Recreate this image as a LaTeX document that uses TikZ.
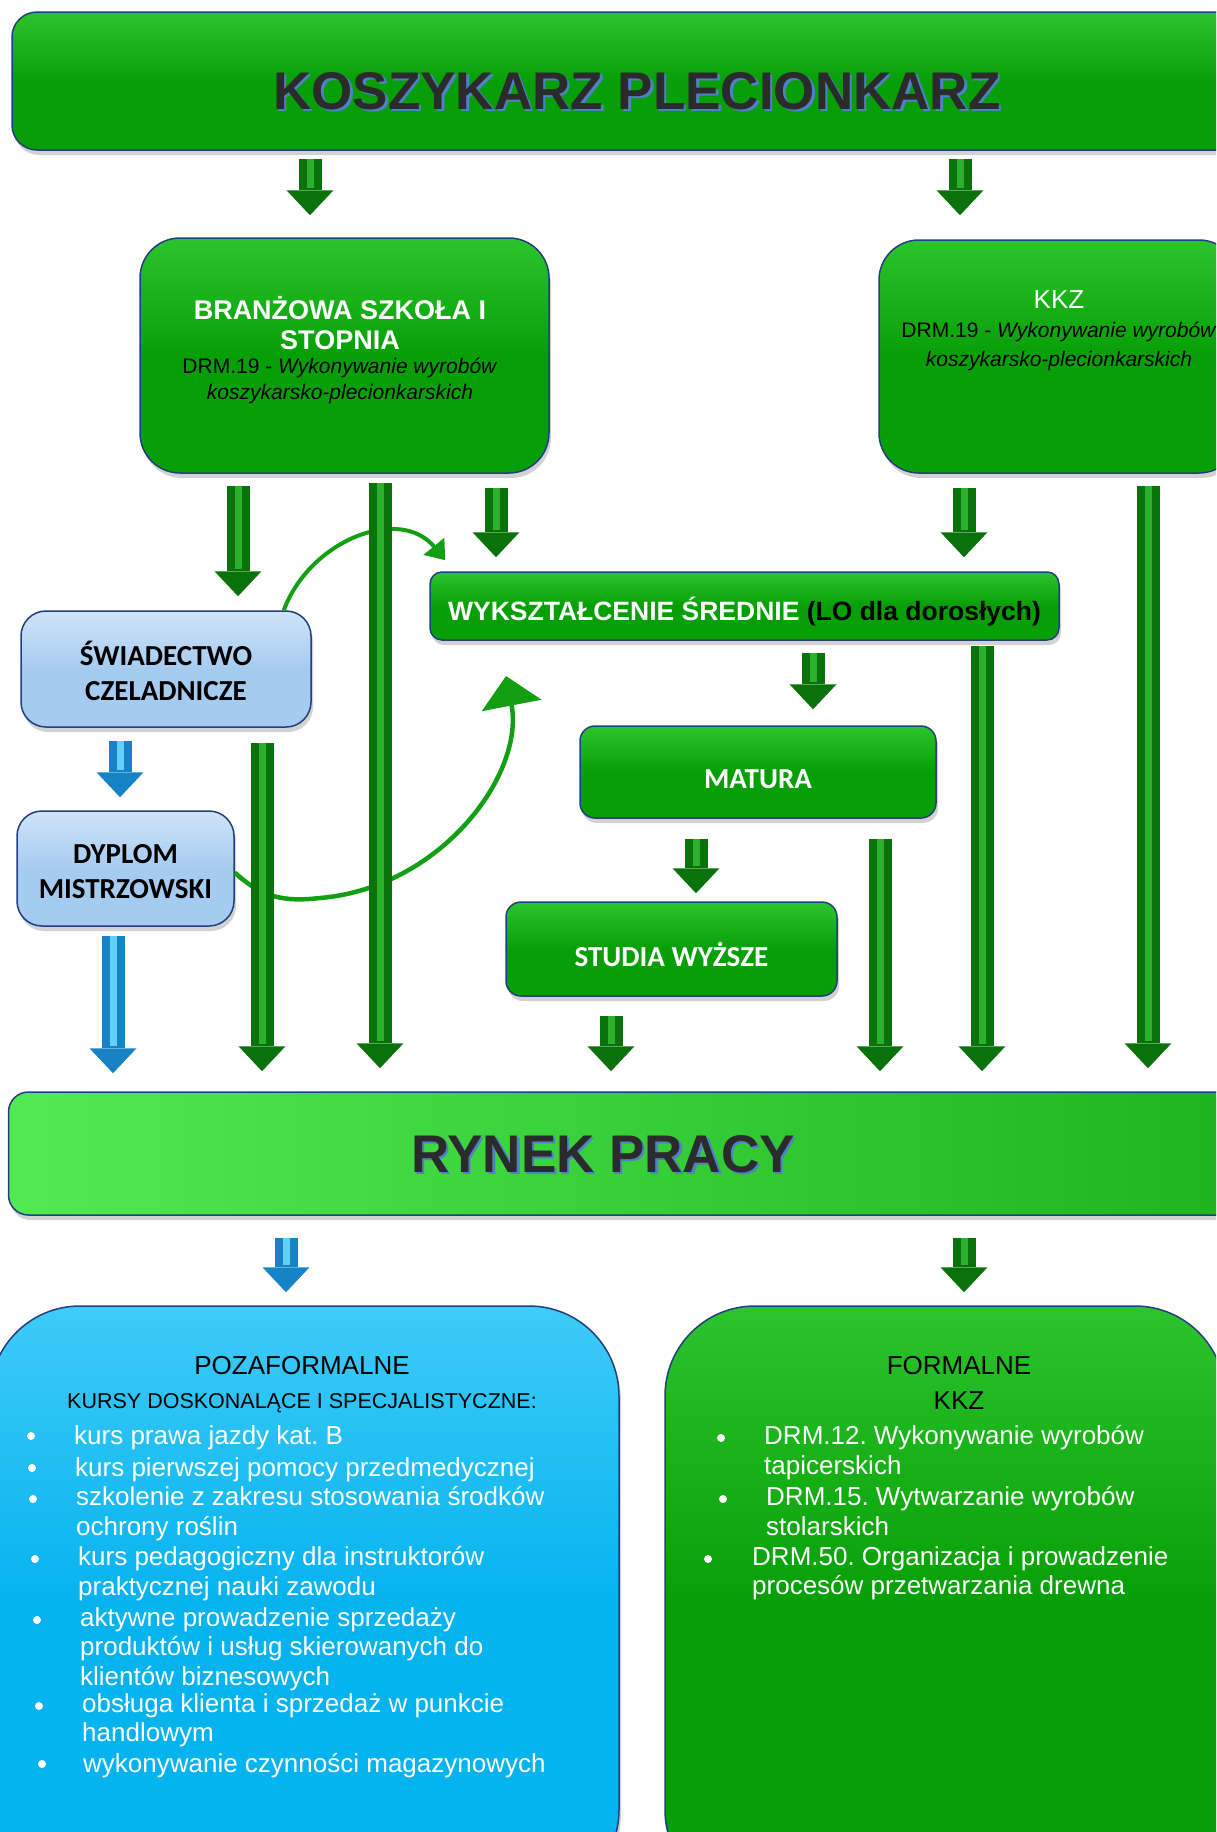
\documentclass[tikz,border=0pt]{standalone}
\usepackage{fontspec}
\setmainfont{Liberation Sans}
\newfontfamily\calibrifont{Carlito}
\usetikzlibrary{arrows.meta,shadows,positioning}
\frenchspacing
\definecolor{boxgreen}{HTML}{06A006}
\definecolor{boxgreenlight}{HTML}{2CC42C}
\definecolor{edgeblue}{HTML}{233F7E}
\definecolor{paleblue}{HTML}{A6CBF0}
\definecolor{palebluelight}{HTML}{CFE4F9}
\definecolor{skyblue}{HTML}{05B3EF}
\definecolor{skybluelight}{HTML}{3FCBF8}
\definecolor{marketlight}{HTML}{52EA52}
\definecolor{marketdark}{HTML}{1CB41C}
\definecolor{arrowgreen}{HTML}{0A720A}
\definecolor{arrowglow}{HTML}{2DB02D}
\definecolor{arrowblue}{HTML}{1683C6}
\definecolor{arrowblueglow}{HTML}{62D0F8}
\definecolor{curvegreen}{HTML}{12A012}
\definecolor{bannergray}{HTML}{2B2B2B}
\definecolor{bannershade}{HTML}{4F80C8}

\begin{document}
\begin{tikzpicture}[x=1pt,y=-1pt,% one unit = one pixel of the scan, y runs down
		every node/.style={align=center,inner sep=0pt},
		greenbox/.style={rectangle,rounded corners=#1,draw=edgeblue,line width=1.5pt,
			top color=boxgreenlight,bottom color=boxgreen,middle color=boxgreen,text=white,
			drop shadow={shadow xshift=2pt,shadow yshift=-5pt,opacity=.35}},
		greenbox/.default=12pt,
		palebox/.style={rectangle,rounded corners=25pt,draw=edgeblue,line width=1.5pt,
			top color=palebluelight,bottom color=paleblue,middle color=paleblue,
			drop shadow={shadow xshift=2pt,shadow yshift=-5pt,opacity=.35}},
		skybox/.style={rectangle,rounded corners=90pt,draw=edgeblue,line width=1.5pt,
			top color=skybluelight,bottom color=skyblue,middle color=skyblue,
			drop shadow={shadow xshift=2pt,shadow yshift=-5pt,opacity=.35}},
		marketbox/.style={rectangle,rounded corners=20pt,draw=edgeblue,line width=1.5pt,
			left color=marketlight,right color=marketdark,
			drop shadow={shadow xshift=2pt,shadow yshift=-5pt,opacity=.35}},
		bannertext/.style={font=\fontsize{53}{60}\selectfont\bfseries,text=bannergray},
		boxtext/.style={font=\calibrifont\bfseries\fontsize{29}{35}\selectfont},
		listitem/.style={align=left,anchor=north west,text=white,
			font=\fontsize{26}{29.5}\selectfont,execute at begin node=\strut},
		greenarrow/.style={draw=arrowgreen,line width=23pt,
			-{Triangle[width=47pt,length=25pt,line width=0pt]},
			postaction={draw=arrowglow,line width=7pt,arrows=-,shorten >=27pt}},
		bluearrow/.style={draw=arrowblue,line width=23pt,
			-{Triangle[width=47pt,length=25pt,line width=0pt]},
			postaction={draw=arrowblueglow,line width=7pt,arrows=-,shorten >=27pt}},
		loopline/.style={draw=curvegreen,line width=#1}
	]
	\useasboundingbox (0,0) rectangle (1216,1832);
	\clip (0,0) rectangle (1216,1832);
	\fill[white] (0,0) rectangle (1216,1832);

	% banners
	\node[greenbox=25pt,minimum width=1248pt,minimum height=138pt] (title) at (636,81) {};
	\node[bannertext,text=bannershade] (titleshade) at (639.5,93.5) {KOSZYKARZ PLECIONKARZ};
	\node[bannertext] (titletext) at (637,91) {KOSZYKARZ PLECIONKARZ};

	\node[marketbox,minimum width=1251pt,minimum height=123pt] (rynek) at (634,1153.5) {};
	\node[bannertext,text=bannershade] (rynekshade) at (605.5,1156.5) {RYNEK PRACY};
	\node[bannertext] (rynektext) at (603,1154) {RYNEK PRACY};

	% schools
	\node[greenbox=40pt,minimum width=409pt,minimum height=235pt] (bss) at (344.5,355.5) {};
	\node[font=\fontsize{21}{25}\selectfont] (bsstext) at (340,350)
		{\fontsize{27}{31}\selectfont\bfseries\color{white}BRANŻOWA SZKOŁA I\\[5pt]
		\fontsize{27}{31}\selectfont\bfseries\color{white}STOPNIA\\[-1pt]
		\fontsize{21}{25}\selectfont\mdseries DRM.19 - \textit{Wykonywanie wyrobów}\\[1pt]
		\textit{koszykarsko-plecionkarskich}};
	\node[greenbox=40pt,minimum width=360pt,minimum height=233pt] (kkz) at (1059,356.5) {};
	\node[font=\fontsize{21}{29}\selectfont] (kkztext) at (1059,331)
		{\textcolor{white}{\fontsize{26}{29}\selectfont KKZ}\\
		DRM.19 - \textit{Wykonywanie wyrobów}\\
		\textit{koszykarsko-plecionkarskich}};

	\node[greenbox,minimum width=629pt,minimum height=68pt] (wyk) at (744.5,606) {};
	\node[font=\fontsize{26.5}{30}\selectfont\bfseries,text=white] (wyktext) at ([yshift=-5pt]wyk.center)
		{WYKSZTAŁCENIE ŚREDNIE \textcolor{black}{(LO dla dorosłych)}};
	\node[greenbox=15pt,minimum width=356pt,minimum height=92pt] (matura) at (758,772) {};
	\node[boxtext,text=white] (maturatext) at ([yshift=-7pt]matura.center) {MATURA};
	\node[greenbox=15pt,minimum width=331pt,minimum height=94pt] (studia) at (671.5,949) {};
	\node[boxtext,text=white] (studiatext) at ([yshift=-5pt]studia.center) {STUDIA WYŻSZE};

	\node[palebox,minimum width=290pt,minimum height=116pt] (swiad) at (166,669) {};
	\node[boxtext] (swiadtext) at ([yshift=-2pt]swiad.center) {ŚWIADECTWO\\CZELADNICZE};
	\node[palebox,minimum width=217pt,minimum height=115pt] (dyplom) at (125.5,868.5) {};
	\node[boxtext] (dyplomtext) at ([yshift=-3pt]dyplom.center) {DYPLOM\\MISTRZOWSKI};

	% further learning
	\node[skybox,minimum width=629pt,minimum height=594pt] (poza) at (304.5,1603) {};
	\node[greenbox=90pt,minimum width=560pt,minimum height=594pt] (formal) at (945,1603) {};
	\node[font=\fontsize{26}{30}\selectfont] (pozahead) at (302,1366) {POZAFORMALNE};
	\node[font=\fontsize{21.5}{25}\selectfont] (kursy) at (302,1403) {KURSY DOSKONALĄCE I SPECJALISTYCZNE:};
	\node[font=\fontsize{26}{30}\selectfont] (formalhead) at (959,1366) {FORMALNE};
	\node[font=\fontsize{26}{30}\selectfont] (formalkkz) at (959,1401) {KKZ};

	% list items: \by is the baseline of the first line
	\foreach \bx/\tx/\by/\txt [count=\i] in {
		31/74/1444/{kurs prawa jazdy kat. B},
		32/75/1476/{kurs pierwszej pomocy przedmedycznej},
		33/76/1507/{szkolenie z zakresu stosowania środków\\ochrony roślin},
		35/78/1567/{kurs pedagogiczny dla instruktorów\\praktycznej nauki zawodu},
		37/80/1628/{aktywne prowadzenie sprzedaży\\produktów i usług skierowanych do\\klientów biznesowych},
		39/82/1714/{obsługa klienta i sprzedaż w punkcie\\handlowym},
		42/83/1772/{wykonywanie czynności magazynowych}}
	{
		\fill[white] (\bx,\by-8) circle (4pt);
		\node[listitem] (pozaitem\i) at (\tx,\by-20.65) {\txt};
	}
	\foreach \bx/\tx/\by/\txt [count=\i] in {
		721/764/1446/{DRM.12. Wykonywanie wyrobów\\tapicerskich},
		723/766/1507/{DRM.15. Wytwarzanie wyrobów\\stolarskich},
		708/752/1567/{DRM.50. Organizacja i prowadzenie\\procesów przetwarzania drewna}}
	{
		\fill[white] (\bx,\by-8) circle (4pt);
		\node[listitem] (formalitem\i) at (\tx,\by-20.65) {\txt};
	}

	% curved links (under the straight arrows)
	\draw[loopline=4pt,-{Triangle[width=26pt,length=18pt]}] ([xshift=-28pt]swiad.north east)
		.. controls (310,540) and (400,505) .. ([xshift=16pt,yshift=11pt]wyk.north west);
	\draw[loopline=4.5pt,-{Triangle[width=60pt,length=30pt]}] ([yshift=-4pt]dyplom.east)
		.. controls (262,898) and (285,902) .. (320,898)
		.. controls (440,888) and (525,775) .. (506,676);

	% straight arrows
	\foreach \src/\dst/\x/\sa/\sb/\col in {
		title/bss/310/8pt/22pt/greenarrow,
		title/kkz/960/8pt/24pt/greenarrow,
		bss/swiad/238/12pt/14pt/greenarrow,
		bss/rynek/380/9pt/23pt/greenarrow,
		bss/wyk/496/14pt/14pt/greenarrow,
		kkz/wyk/964/14pt/14pt/greenarrow,
		kkz/rynek/1148/12pt/23pt/greenarrow,
		swiad/dyplom/120/13pt/13pt/bluearrow,
		swiad/rynek/262/15pt/20pt/greenarrow,
		wyk/matura/813/12pt/16pt/greenarrow,
		wyk/rynek/982/5pt/20pt/greenarrow,
		matura/studia/696/20pt/8pt/greenarrow,
		matura/rynek/880/20pt/20pt/greenarrow,
		studia/rynek/611/19pt/20pt/greenarrow,
		dyplom/rynek/113/9pt/18pt/bluearrow,
		rynek/poza/286/22pt/13pt/bluearrow,
		rynek/formal/964/22pt/13pt/greenarrow}
		\draw[\col] ([yshift=-\sa]\src.south -| \x,0) -- ([yshift=\sb]\dst.north -| \x,0);
\end{tikzpicture}
\end{document}
